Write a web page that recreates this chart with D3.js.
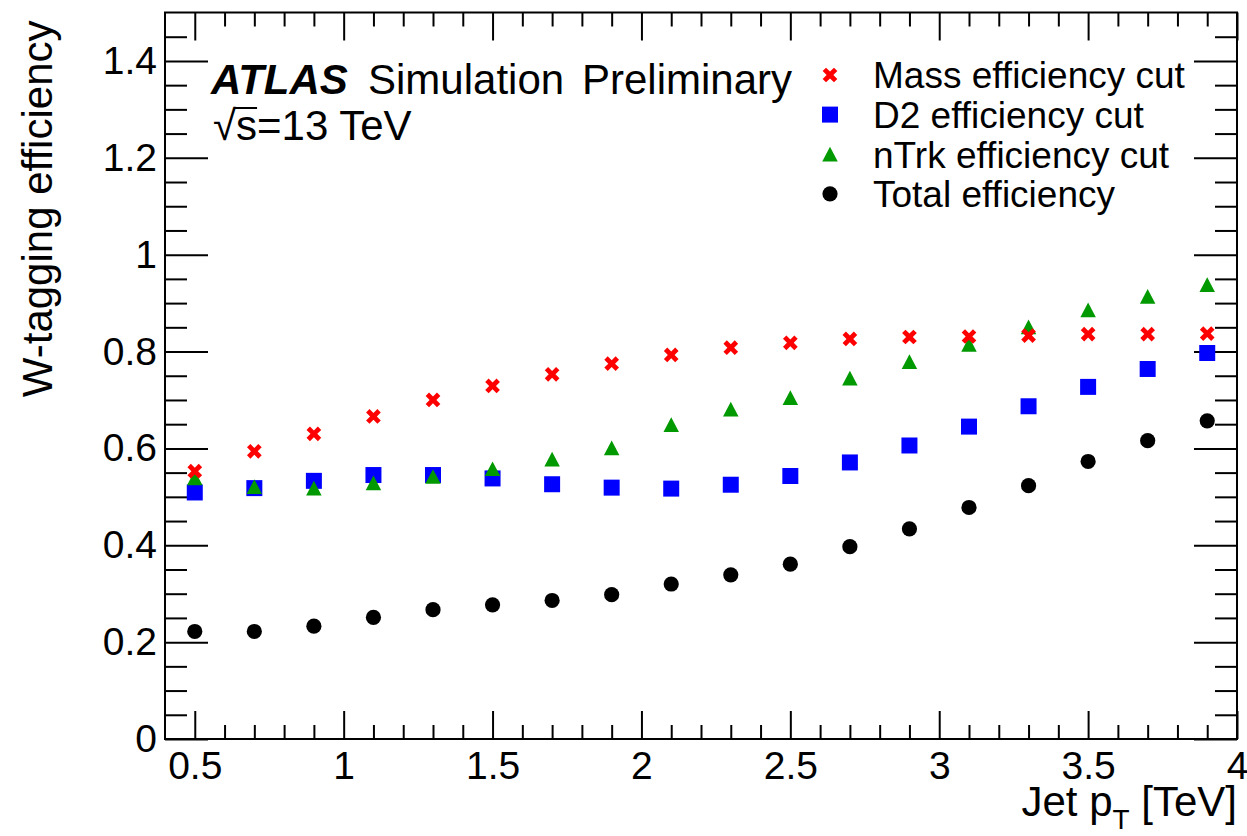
<!DOCTYPE html>
<html>
<head>
<meta charset="utf-8">
<script src="https://cdn.jsdelivr.net/npm/d3@7"></script>
<style>
  body { margin: 0; background: #fff; }
  svg text { font-family: "Liberation Sans", Arial, Helvetica, sans-serif; }
</style>
</head>
<body>
<svg id="chart" width="1247" height="836"></svg>
<script>
/*** DATA ***/
const ptBins = [0.5, 0.7, 0.9, 1.1, 1.3, 1.5, 1.7, 1.9, 2.1, 2.3, 2.5, 2.7, 2.9, 3.1, 3.3, 3.5, 3.7, 3.9];
const massEff = [0.553, 0.594, 0.630, 0.666, 0.700, 0.729, 0.753, 0.775, 0.793, 0.808, 0.818, 0.826, 0.830, 0.831, 0.833, 0.836, 0.836, 0.837];
const d2Eff   = [0.509, 0.518, 0.533, 0.545, 0.545, 0.538, 0.526, 0.519, 0.517, 0.525, 0.543, 0.571, 0.606, 0.645, 0.687, 0.727, 0.764, 0.797];
const ntrkEff = [0.539, 0.521, 0.518, 0.529, 0.542, 0.558, 0.578, 0.601, 0.649, 0.681, 0.705, 0.745, 0.779, 0.815, 0.851, 0.886, 0.914, 0.938];
const totalEff = [0.222, 0.222, 0.233, 0.251, 0.267, 0.277, 0.286, 0.298, 0.320, 0.339, 0.361, 0.397, 0.434, 0.478, 0.523, 0.573, 0.616, 0.657];

const xMajor = [0.5, 1, 1.5, 2, 2.5, 3, 3.5, 4];
const xTickLabels = ['0.5', '1', '1.5', '2', '2.5', '3', '3.5', '4'];
const yMajor = [0, 0.2, 0.4, 0.6, 0.8, 1, 1.2, 1.4];
const yTickLabels = ['0', '0.2', '0.4', '0.6', '0.8', '1', '1.2', '1.4'];

const seriesNames = ['Mass efficiency cut', 'D2 efficiency cut', 'nTrk efficiency cut', 'Total efficiency'];

/*** DIMENSIONS ***/
const W = 1247, H = 836;
const margin = {top: 12.5, right: 10, bottom: 97, left: 165};
const width = W - margin.left - margin.right;
const height = H - margin.top - margin.bottom;

const svg = d3.select('#chart');
const g = svg.append('g').attr('transform', `translate(${margin.left},${margin.top})`);

const x = d3.scaleLinear().domain([0.4, 4.0]).range([0, width]);
const y = d3.scaleLinear().domain([0, 1.5]).range([height, 0]);

const xMinor = d3.range(5, 40).map(v => v / 10).filter(v => !xMajor.some(m => Math.abs(m - v) < 1e-6));
const yMinor = d3.range(1, 30).map(v => v / 20).filter(v => !yMajor.some(m => Math.abs(m - v) < 1e-6));

// --- AXES (ROOT style: inward ticks on all four sides) ---
function styleAxis(sel) {
  sel.select('.domain').remove();
  sel.selectAll('.tick line').attr('stroke', '#000').attr('stroke-width', 2);
  sel.selectAll('.tick text').attr('fill', '#000');
}

g.append('g').attr('transform', `translate(0,${height})`)
  .call(d3.axisBottom(x).tickValues(xMajor).tickSize(-28).tickPadding(12)
        .tickFormat((d, i) => xTickLabels[i]))
  .call(styleAxis)
  .selectAll('text').attr('font-size', 39);
g.append('g').attr('transform', `translate(0,${height})`)
  .call(d3.axisBottom(x).tickValues(xMinor).tickSize(-14).tickFormat(''))
  .call(styleAxis);
g.append('g')
  .call(d3.axisTop(x).tickValues(xMajor).tickSize(-28).tickFormat(''))
  .call(styleAxis);
g.append('g')
  .call(d3.axisTop(x).tickValues(xMinor).tickSize(-14).tickFormat(''))
  .call(styleAxis);

g.append('g')
  .call(d3.axisLeft(y).tickValues(yMajor).tickSize(-43).tickPadding(8)
        .tickFormat((d, i) => yTickLabels[i]))
  .call(styleAxis)
  .selectAll('text').attr('font-size', 39);
g.append('g')
  .call(d3.axisLeft(y).tickValues(yMinor).tickSize(-22).tickFormat(''))
  .call(styleAxis);
g.append('g').attr('transform', `translate(${width},0)`)
  .call(d3.axisRight(y).tickValues(yMajor).tickSize(-43).tickFormat(''))
  .call(styleAxis);
g.append('g').attr('transform', `translate(${width},0)`)
  .call(d3.axisRight(y).tickValues(yMinor).tickSize(-22).tickFormat(''))
  .call(styleAxis);

// frame
g.append('rect')
  .attr('width', width).attr('height', height)
  .attr('fill', 'none').attr('stroke', '#000').attr('stroke-width', 2);

// --- AXIS TITLES ---
svg.append('text')
  .attr('transform', `translate(52,${margin.top + 8}) rotate(-90)`)
  .attr('text-anchor', 'end')
  .attr('font-size', 42)
  .text('W-tagging efficiency');

const xt = svg.append('text')
  .attr('x', margin.left + width).attr('y', 816)
  .attr('text-anchor', 'end')
  .attr('font-size', 42);
xt.append('tspan').text('Jet p');
xt.append('tspan').attr('font-size', 28).attr('dy', 13).text('T');
xt.append('tspan').attr('dy', -13).text(' [TeV]');

// --- MARKERS ---
const thickX = {
  draw(ctx, size) {
    const s = Math.sqrt(size);      // half-span
    const t = s * 0.46;             // arm half-thickness offset
    ctx.moveTo(-s, -s + t); ctx.lineTo(-s + t, -s); ctx.lineTo(0, -t);
    ctx.lineTo(s - t, -s); ctx.lineTo(s, -s + t); ctx.lineTo(t, 0);
    ctx.lineTo(s, s - t); ctx.lineTo(s - t, s); ctx.lineTo(0, t);
    ctx.lineTo(-s + t, s); ctx.lineTo(-s, s - t); ctx.lineTo(-t, 0);
    ctx.closePath();
  }
};
const boxTriangle = {
  draw(ctx, size) {
    const w = Math.sqrt(size);
    const h = w * 0.95;
    ctx.moveTo(0, -h / 2); ctx.lineTo(w / 2, h / 2); ctx.lineTo(-w / 2, h / 2); ctx.closePath();
  }
};

const series = [
  {name: seriesNames[0], values: massEff, type: thickX, size: 54, color: '#ff0000'},
  {name: seriesNames[1], values: d2Eff, type: d3.symbolSquare, size: 256, color: '#0000ff'},
  {name: seriesNames[2], values: ntrkEff, type: boxTriangle, size: 240, color: '#009900'},
  {name: seriesNames[3], values: totalEff, type: d3.symbolCircle, size: Math.PI * 7.6 * 7.6, color: '#000000'}
];

// draw in ROOT order: later series on top
[1, 2, 0, 3].forEach(si => {
  const s = series[si];
  g.append('g').selectAll('path')
    .data(s.values.map((v, i) => ({pt: ptBins[i], eff: v})))
    .join('path')
      .attr('transform', d => `translate(${x(d.pt)},${y(d.eff)})`)
      .attr('d', d3.symbol().type(s.type).size(s.size))
      .attr('fill', s.color);
});

// --- LEGEND ---
const legend = svg.append('g').attr('transform', 'translate(830,75)');
const entries = legend.selectAll('g')
  .data(series)
  .join('g')
    .attr('transform', (d, i) => `translate(0,${i * 39.6})`);
entries.append('path')
  .attr('d', d => d3.symbol().type(d.type).size(d.size)())
  .attr('fill', d => d.color);
entries.append('text')
  .attr('x', 43).attr('dy', '0.36em')
  .attr('font-size', 37)
  .text(d => d.name);

// --- LABELS ---
svg.append('text')
  .attr('x', 211).attr('y', 94)
  .attr('font-size', 42).attr('font-weight', 'bold').attr('font-style', 'italic')
  .text('ATLAS');
svg.append('text')
  .attr('x', 368).attr('y', 94)
  .attr('font-size', 42)
  .text('Simulation');
svg.append('text')
  .attr('x', 582).attr('y', 94)
  .attr('font-size', 42)
  .text('Preliminary');

const energy = svg.append('text')
  .attr('x', 213).attr('y', 140)
  .attr('font-size', 42)
  .text('√s=13 TeV');
const en = energy.node();
const sStart = en.getStartPositionOfChar(1).x;
const sEnd = en.getEndPositionOfChar(1).x;
svg.append('line')
  .attr('x1', sStart - 2).attr('x2', sEnd)
  .attr('y1', 108).attr('y2', 108)
  .attr('stroke', '#000').attr('stroke-width', 2);
</script>
</body>
</html>
